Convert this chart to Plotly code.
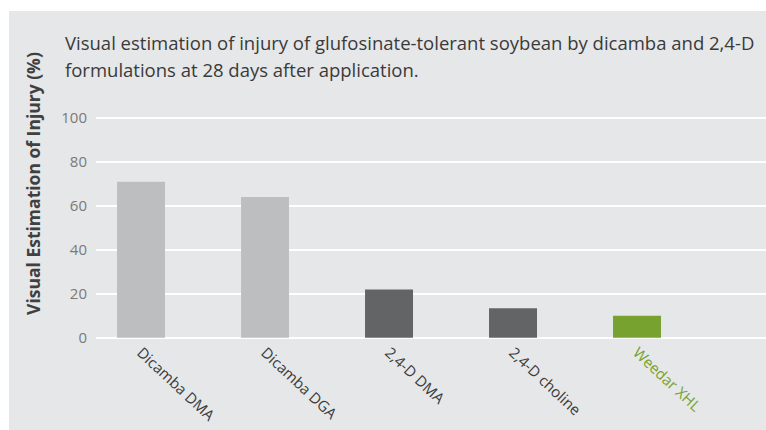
import plotly.graph_objects as go

categories = ["Dicamba DMA", "Dicamba DGA", "2,4-D DMA", "2,4-D choline", "Weedar XHL"]
injury = [71, 64, 22, 13.5, 10]
bar_colors = ["#BDBEC0", "#BDBEC0", "#636466", "#636466", "#77A22F"]
label_colors = ["#3C3C3C", "#3C3C3C", "#3C3C3C", "#3C3C3C", "#77A22F"]
y_ticks = [0, 20, 40, 60, 80, 100]

title_line1 = "Visual estimation of injury of glufosinate-tolerant soybean by dicamba and 2,4-D"
title_line2 = "formulations at 28 days after application."
y_title = "Visual Estimation of Injury (%)"

W, H = 766, 430
L, R = 96, 0
T = 107
B = H - 340.2
pw, ph = W - L - R, H - T - B

def px_x(x):
    return (x - L) / pw

def px_y(y):
    return (H - B - y) / ph

BG = "#E6E7E8"
FONT = "Open Sans"

fig = go.Figure()
fig.add_trace(go.Bar(
    x=list(range(len(categories))),
    y=injury,
    marker=dict(color=bar_colors, line=dict(width=0)),
    width=0.387,
    hoverinfo="skip",
))

ticktext = [f'<span style="color:{c}">{t}</span>' for t, c in zip(categories, label_colors)]

fig.update_layout(
    width=W, height=H,
    margin=dict(l=L, r=R, t=T, b=B, pad=0),
    paper_bgcolor="white",
    plot_bgcolor="rgba(0,0,0,0)",
    showlegend=False,
    font=dict(family=FONT),
    xaxis=dict(
        range=[-0.363, 5.04],
        tickmode="array",
        tickvals=list(range(len(categories))),
        ticktext=ticktext,
        tickangle=43,
        tickfont=dict(size=15, color="#333333"),
        showgrid=False, zeroline=False, showline=False, ticks="",
    ),
    yaxis=dict(
        range=[-1, 105],
        tickmode="array",
        tickvals=y_ticks,
        tickfont=dict(size=15, color="#7A7A7A"),
        showgrid=True, gridcolor="white", gridwidth=1.5,
        zeroline=False, showline=False, ticks="",
        ticklabelstandoff=8,
    ),
    shapes=[dict(
        type="rect", xref="paper", yref="paper", layer="below",
        x0=px_x(9), x1=px_x(W + 4), y0=px_y(H + 4), y1=px_y(11),
        fillcolor=BG, line=dict(width=0),
    )],
    annotations=[
        dict(text=title_line1, xref="paper", yref="paper", x=px_x(63), y=px_y(42),
             xanchor="left", yanchor="middle", showarrow=False,
             font=dict(size=18.5, color="#3A3A3A", family=FONT)),
        dict(text=title_line2, xref="paper", yref="paper", x=px_x(63), y=px_y(69),
             xanchor="left", yanchor="middle", showarrow=False,
             font=dict(size=18.5, color="#3A3A3A", family=FONT)),
        dict(text=f"<b>{y_title}</b>", xref="paper", yref="paper", x=px_x(33), y=px_y(184),
             xanchor="center", yanchor="middle", showarrow=False, textangle=-90,
             font=dict(size=17.5, color="#404040", family=FONT)),
    ],
)

fig.write_html(
    "out.html",
    config={"displayModeBar": False},
    post_script=f"document.body.style.margin='0px'; document.body.style.background='{BG}';",
)
